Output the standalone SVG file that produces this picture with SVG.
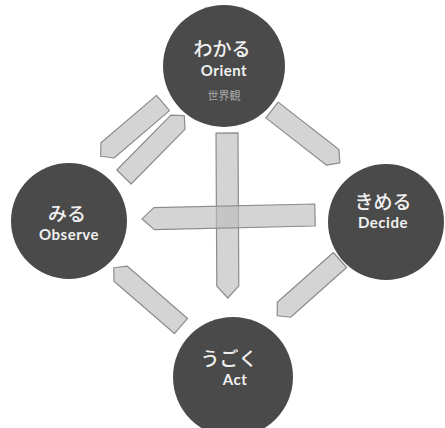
<svg xmlns="http://www.w3.org/2000/svg" width="445" height="428" viewBox="0 0 445 428">
<style>
.node circle{fill:#4a4a4a}
.jp{font-family:"Noto Sans CJK JP","Noto Sans",sans-serif;font-size:19px;font-weight:500;fill:#f0f0f0;text-anchor:middle}
.en{font-family:"Lato","Noto Sans",sans-serif;font-size:15px;font-weight:bold;fill:#f0f0f0;text-anchor:middle;letter-spacing:0.5px}
.sub{font-family:"Noto Sans CJK JP",sans-serif;font-size:11px;fill:#a8a8a8;text-anchor:middle}
.arr{fill:#bdbdbd;fill-opacity:0.65;stroke:#8c8c8c;stroke-width:1.2;stroke-linejoin:round}
</style>
<rect width="445" height="428" fill="#ffffff"/>
<g id="orient" class="node">
<circle cx="224" cy="66" r="61"/>
<text class="jp" x="222" y="56">わかる</text>
<text class="en" x="224" y="76">Orient</text>
<text class="sub" x="224" y="100">世界観</text>
</g>
<g id="observe" class="node">
<circle cx="69" cy="221" r="58"/>
<text class="jp" x="67" y="221">みる</text>
<text class="en" x="69" y="240">Observe</text>
</g>
<g id="decide" class="node">
<circle cx="386" cy="222" r="58"/>
<text class="jp" x="383" y="209">きめる</text>
<text class="en" x="383" y="228">Decide</text>
</g>
<g id="act" class="node">
<circle cx="233" cy="377" r="60"/>
<text class="jp" x="229" y="366">うごく</text>
<text class="en" x="235" y="385">Act</text>
</g>
<g id="connectors">
<polygon class="arr" points="0,-10 73,-10 82,0 73,10 0,10" transform="translate(163,103) rotate(139.5)"/>
<polygon class="arr" points="0,-10 77,-10 86,0 77,10 0,10" transform="translate(124,177) rotate(-45.5)"/>
<polygon class="arr" points="0,-10 77,-10 86,0 77,10 0,10" transform="translate(272,110) rotate(37.9)"/>
<polygon class="arr" points="0,-10 75,-10 84,0 75,10 0,10" transform="translate(340,260) rotate(138.4)"/>
<polygon class="arr" points="0,-10 80,-10 89,0 80,10 0,10" transform="translate(181,326) rotate(-139.1)"/>
<polygon class="arr" points="0,-11 153,-11 165,0 153,11 0,11" transform="translate(227,133) rotate(89.7)"/>
<polygon class="arr" points="0,-11 161,-11 173,0 161,11 0,11" transform="translate(315,215) rotate(178.7)"/>
</g>
</svg>
